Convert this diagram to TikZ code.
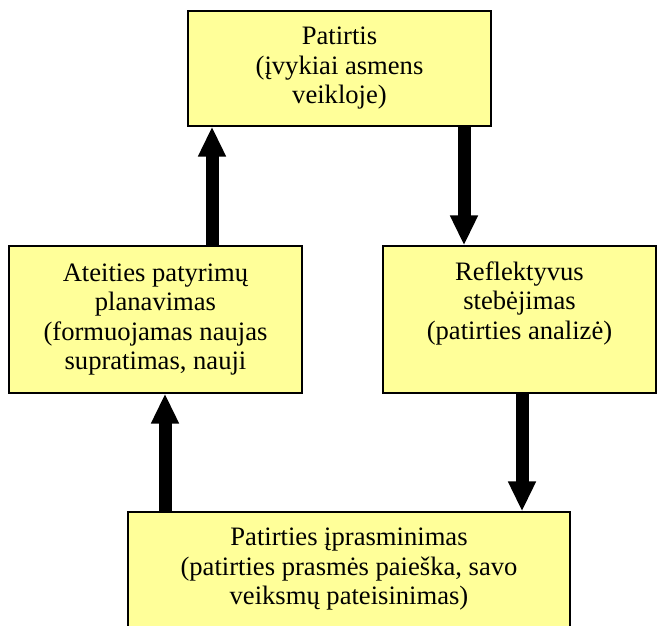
\documentclass[tikz,border=0pt]{standalone}
\usepackage{fontspec}
\setmainfont{Liberation Serif}
\usetikzlibrary{arrows.meta,positioning}
\definecolor{boxyellow}{HTML}{FFFF99}

\begin{document}
\begin{tikzpicture}[x=1pt, y=-1pt,
  unit/.style={rectangle, draw=black, line width=1.2pt, fill=boxyellow, align=center, inner sep=0pt, minimum height=147pt, font=\fontsize{26.6}{29.5}\selectfont},
  flow/.style={line width=13pt, -{Triangle[length=30pt,width=26pt]}}]

\useasboundingbox (0,0) rectangle (657,626);

%Nodes
\node[unit, minimum width=303pt, minimum height=115pt] (exp)  at (339.5,68.5) {Patirtis\\(įvykiai asmens\\veikloje)};
\node[unit, minimum width=293pt] (plan) at (155.5,319.5) {Ateities patyrimų\\planavimas\\(formuojamas naujas\\supratimas, nauji};
\node[unit, minimum width=273pt] (refl) at (519.5,319.5) {Reflektyvus\\stebėjimas\\(patirties analizė)\\\strut};
\node[unit, minimum width=442pt] (mean) at (349,585.5)   {Patirties įprasminimas\\(patirties prasmės paieška, savo\\veiksmų pateisinimas)\\\strut};

%Lines
\draw[flow] ([xshift=56.5pt]plan.north) -- ([xshift=56.5pt]plan.north |- exp.south);
\draw[flow] ([xshift=124.5pt]exp.south) -- ([xshift=124.5pt]exp.south |- refl.north);
\draw[flow] ([xshift=2.5pt]refl.south) -- ([xshift=2.5pt]refl.south |- mean.north);
\draw[flow] ([xshift=-184pt]mean.north) -- ([xshift=-184pt]mean.north |- plan.south);

\end{tikzpicture}
\end{document}
